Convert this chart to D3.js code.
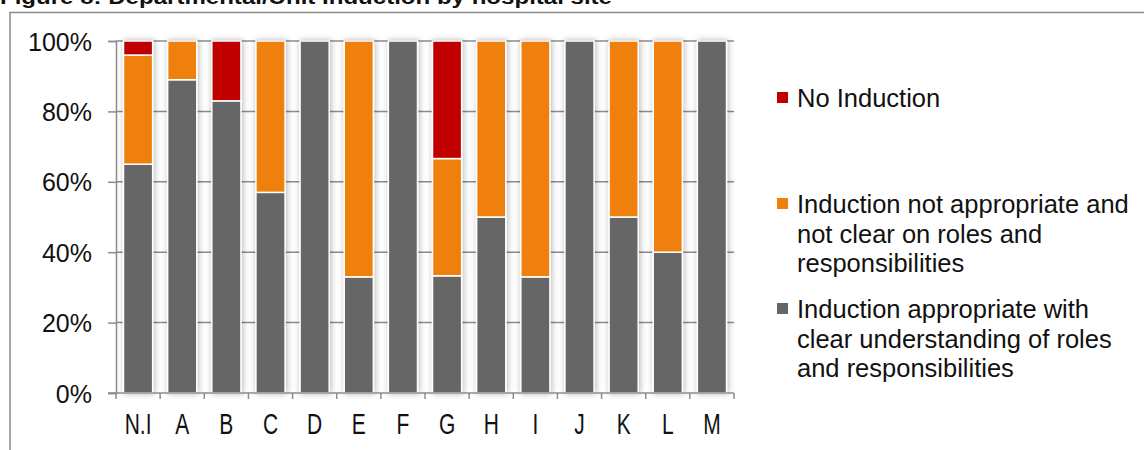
<!DOCTYPE html>
<html>
<head>
<meta charset="utf-8">
<script src="https://cdn.jsdelivr.net/npm/d3@7"></script>
<style>
  html, body { margin: 0; padding: 0; background: #fff; }
  svg { display: block; font-family: "Liberation Sans", Arial, sans-serif; }
</style>
</head>
<body>
<svg id="chart" width="1144" height="450"></svg>
<script>
const categories = ["N.I","A","B","C","D","E","F","G","H","I","J","K","L","M"];
const appropriate    = [65, 89, 83, 57, 100, 33, 100, 33.3, 50, 33, 100, 50, 40, 100];
const notAppropriate = [31, 11, 0, 43, 0, 67, 0, 33.3, 50, 67, 0, 50, 60, 0];
const noInduction    = [4, 0, 17, 0, 0, 0, 0, 33.4, 0, 0, 0, 0, 0, 0];
const yTicks = [0, 20, 40, 60, 80, 100];
const legendLines = [
  ["No Induction"],
  ["Induction not appropriate and", "not clear on roles and", "responsibilities"],
  ["Induction appropriate with", "clear understanding of roles", "and responsibilities"]
];
const titleText = "Figure 8: Departmental/Unit Induction by hospital site";
const colors = ["#666666", "#EF800B", "#C00000"];

(function () {
const svg = d3.select("#chart");

const defs = svg.append("defs");
const f = defs.append("filter").attr("id", "shadow")
  .attr("x", "-40%").attr("y", "-5%").attr("width", "180%").attr("height", "110%");
f.append("feDropShadow").attr("dx", 1).attr("dy", 0).attr("stdDeviation", 3)
  .attr("flood-color", "#000").attr("flood-opacity", 0.3);

svg.append("text").attr("x", 0).attr("y", 4)
  .attr("font-size", 20).attr("font-weight", "bold").attr("fill", "#111")
  .attr("textLength", 612).attr("lengthAdjust", "spacingAndGlyphs")
  .text(titleText);

svg.append("path").attr("d", "M10,450 V12.5 H1144")
  .attr("fill", "none").attr("stroke", "#8a8a8a").attr("stroke-width", 1.5);

const mLeft = 116, mRight = 734, mTop = 41, mBottom = 393;
const x = d3.scaleBand().domain(categories).range([mLeft, mRight])
  .paddingInner(0.34).paddingOuter(0.17);
const y = d3.scaleLinear().domain([0, 100]).range([mBottom, mTop]);

svg.append("g").selectAll("line").data(yTicks.filter(d => d > 0)).join("line")
  .attr("x1", mLeft).attr("x2", mRight)
  .attr("y1", d => y(d)).attr("y2", d => y(d))
  .attr("stroke", "#8c8c8c").attr("stroke-width", 1.5);

const yAxis = d3.axisLeft(y).tickValues(yTicks).tickFormat(d => d + "%")
  .tickSize(8).tickPadding(16);
const gy = svg.append("g").attr("transform", `translate(${mLeft},0)`).call(yAxis);
gy.select(".domain").attr("stroke", "#8c8c8c").attr("stroke-width", 1.5);
gy.selectAll(".tick line").attr("stroke", "#8c8c8c").attr("stroke-width", 1.5);
gy.selectAll(".tick text").attr("font-size", 25).attr("fill", "#111")
  .attr("font-family", "Liberation Sans, Arial, sans-serif").attr("dy", "0.36em");

const table = categories.map((c, i) => ({
  cat: c, s0: appropriate[i], s1: notAppropriate[i], s2: noInduction[i]
}));
const layers = d3.stack().keys(["s0", "s1", "s2"])(table);

const barsG = svg.append("g").attr("filter", "url(#shadow)");
layers.forEach((layer, li) => {
  barsG.append("g").selectAll("rect")
    .data(layer.filter(d => d[1] - d[0] > 0))
    .join("rect")
    .attr("x", d => x(d.data.cat))
    .attr("width", x.bandwidth())
    .attr("y", d => y(d[1]))
    .attr("height", d => y(d[0]) - y(d[1]))
    .attr("fill", colors[li])
    .attr("stroke", "#fff").attr("stroke-width", 1.5);
});

const step = x.step();
const gx = svg.append("g");
gx.append("line").attr("x1", mLeft - 8).attr("x2", mRight)
  .attr("y1", mBottom).attr("y2", mBottom)
  .attr("stroke", "#8c8c8c").attr("stroke-width", 1.5);
gx.selectAll("line.t").data(d3.range(categories.length + 1)).join("line")
  .attr("class", "t")
  .attr("x1", i => mLeft + i * step).attr("x2", i => mLeft + i * step)
  .attr("y1", mBottom).attr("y2", mBottom + 6)
  .attr("stroke", "#8c8c8c").attr("stroke-width", 1.5);
gx.selectAll("text").data(categories).join("text")
  .attr("transform", d => `translate(${x(d) + x.bandwidth() / 2},434) scale(0.7,1)`)
  .attr("text-anchor", "middle").attr("font-size", 30).attr("fill", "#111")
  .text(d => d);

const legendY = [107, 213, 318];
const lg = svg.append("g");
legendLines.forEach((lines, i) => {
  const ci = 2 - i;
  lg.append("rect").attr("x", 777).attr("y", legendY[i] - 15)
    .attr("width", 11).attr("height", 11).attr("fill", colors[ci]);
  const t = lg.append("text").attr("x", 797).attr("y", legendY[i])
    .attr("font-size", 25.5).attr("fill", "#111");
  lines.forEach((ln, k) => {
    t.append("tspan").attr("x", 797).attr("y", legendY[i] + k * 29.5).text(ln);
  });
});
})();
</script>
</body>
</html>
